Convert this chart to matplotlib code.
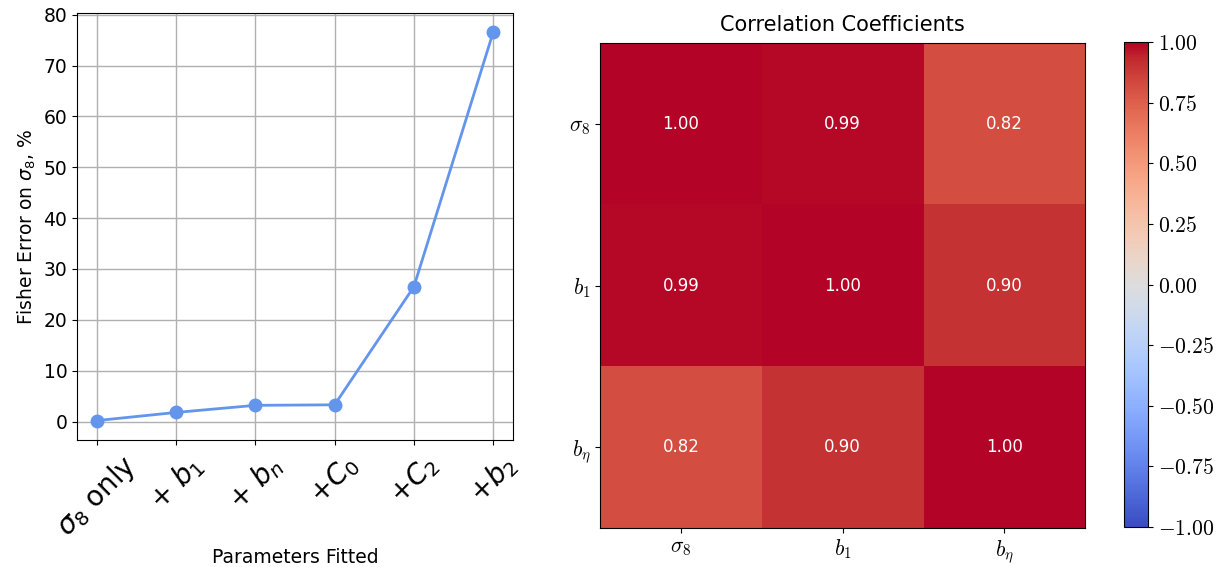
import matplotlib
matplotlib.use("Agg")
import matplotlib.pyplot as plt
import numpy as np
from matplotlib.ticker import FuncFormatter

# Data
steps = [r"$\sigma_8$ only", r"$+\ b_1$", r"$+\ b_n$", r"$+C_0$", r"$+C_2$", r"$+b_2$"]
fisher_err = [0.2, 1.8, 3.2, 3.3, 26.5, 76.5]
params = [r"$\sigma_8$", r"$b_1$", r"$b_\eta$"]
corr = np.array([[1.00, 0.99, 0.82],
                 [0.99, 1.00, 0.90],
                 [0.82, 0.90, 1.00]])

fig = plt.figure(figsize=(12.28, 5.67), dpi=100)

# Left plot
ax1 = fig.add_axes([0.0627, 0.224, 0.355, 0.753])
x = np.arange(len(steps))
ax1.plot(x, fisher_err, '-o', color='cornflowerblue', lw=2, ms=9, zorder=3)
ax1.grid(True, color='#b0b0b0', lw=1)
ax1.set_xticks(x)
ax1.set_xticklabels(steps, rotation=45, fontsize=20, ha='center')
ax1.tick_params(axis='y', labelsize=13.5)
ax1.set_yticks(np.arange(0, 81, 10))
ax1.set_ylabel(r"Fisher Error on $\sigma_8$, %", fontsize=13.5)
ax1.set_xlabel("Parameters Fitted", fontsize=13.5)

# Right heatmap
ax2 = fig.add_axes([0.4886, 0.0688, 0.395, 0.855])
im = ax2.imshow(corr, cmap='coolwarm', vmin=-1, vmax=1, aspect='auto')
ax2.set_xticks(range(len(params)))
ax2.set_yticks(range(len(params)))
ax2.set_xticklabels(params, fontsize=15.5, math_fontfamily='cm')
ax2.set_yticklabels(params, fontsize=15.5, math_fontfamily='cm')
ax2.set_title("Correlation Coefficients", fontsize=15, pad=9)
for i in range(len(params)):
    for j in range(len(params)):
        ax2.text(j, i, f"{corr[i, j]:.2f}", ha='center', va='center', color='white', fontsize=12)

cax = fig.add_axes([0.9153, 0.0705, 0.0195, 0.855])
cb = fig.colorbar(im, cax=cax)
cb.set_ticks(np.arange(-1, 1.01, 0.25))
cb.ax.yaxis.set_major_formatter(FuncFormatter(lambda v, p: f"${v:.2f}$"))
for lab in cb.ax.get_yticklabels():
    lab.set_math_fontfamily('cm')
    lab.set_fontsize(15.5)
cb.ax.tick_params(labelsize=15.5)

fig.savefig("out.png", dpi=100)
